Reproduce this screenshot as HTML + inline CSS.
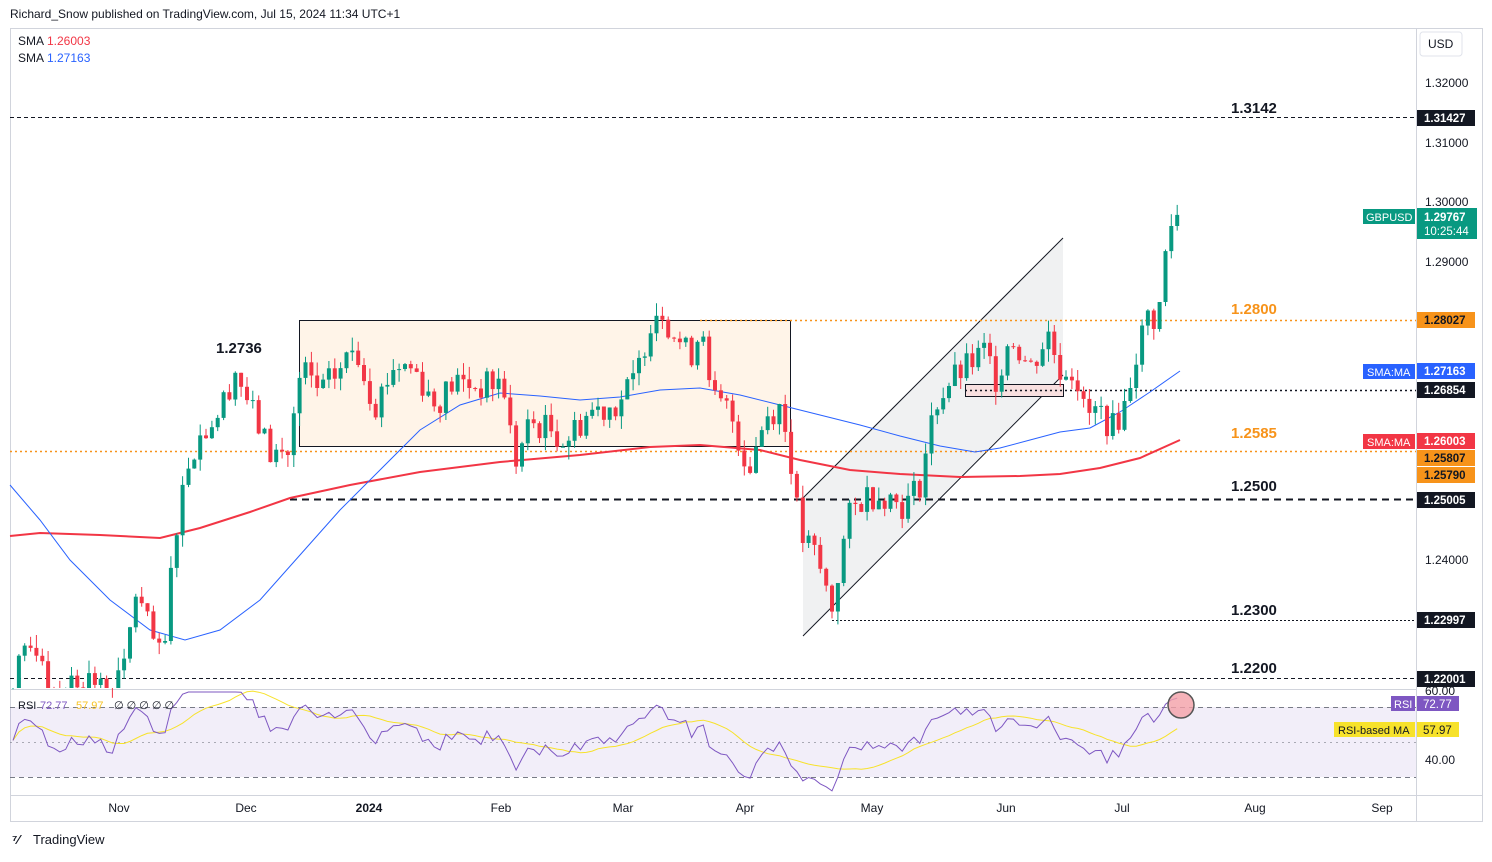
<!DOCTYPE html>
<html><head><meta charset="utf-8">
<style>
body{margin:0;background:#fff;font-family:"Liberation Sans",Arial,sans-serif;}
svg text{font-family:"Liberation Sans",Arial,sans-serif;}
</style></head>
<body>
<svg id="s" width="1492" height="857" xmlns="http://www.w3.org/2000/svg">
<rect width="1492" height="857" fill="#fff"/>
<text x="10" y="18" font-size="12" fill="#131722">Richard_Snow published on TradingView.com, Jul 15, 2024 11:34 UTC+1</text>
<rect x="10.5" y="28.5" width="1472" height="793" fill="none" stroke="#d1d4dc"/>
<line x1="1416.5" y1="28" x2="1416.5" y2="822" stroke="#d1d4dc"/>
<line x1="10" y1="795.5" x2="1482" y2="795.5" stroke="#d1d4dc"/>
<line x1="10" y1="689.5" x2="1416" y2="689.5" stroke="#d1d4dc"/>
<text x="18" y="45" font-size="12" fill="#131722">SMA</text><text x="47" y="45" font-size="12" fill="#f23645">1.26003</text>
<text x="18" y="62" font-size="12" fill="#131722">SMA</text><text x="47" y="62" font-size="12" fill="#2962ff">1.27163</text>
<rect x="1420" y="32" width="42" height="24" rx="3" fill="#fff" stroke="#e0e3eb"/>
<text x="1428" y="48" font-size="12" fill="#131722">USD</text>
<rect x="299.5" y="320.5" width="491" height="126" fill="#fff4e8" stroke="#131722"/>
<polygon points="803,498 1063,238 1063,375 803,636" fill="#f0f1f2"/>
<line x1="803" y1="498" x2="1063" y2="238" stroke="#131722"/>
<line x1="803" y1="636" x2="1063" y2="375" stroke="#131722"/>
<rect x="965.5" y="384.5" width="98" height="12" fill="#f8e0e0" stroke="#131722"/>
<line x1="10" y1="117.5" x2="1416" y2="117.5" stroke="#131722" stroke-dasharray="4,3"/>
<line x1="700" y1="320.5" x2="1416" y2="320.5" stroke="#f7931a" stroke-width="1.5" stroke-dasharray="2,3"/>
<line x1="10" y1="451.5" x2="1416" y2="451.5" stroke="#f7931a" stroke-width="1.5" stroke-dasharray="2,3"/>
<line x1="290" y1="499.5" x2="1416" y2="499.5" stroke="#131722" stroke-width="2" stroke-dasharray="7,5"/>
<line x1="965" y1="390.5" x2="1416" y2="390.5" stroke="#131722" stroke-width="1.5" stroke-dasharray="2,3"/>
<line x1="832" y1="620.5" x2="1416" y2="620.5" stroke="#131722" stroke-dasharray="2,2"/>
<line x1="10" y1="678.5" x2="1416" y2="678.5" stroke="#131722" stroke-dasharray="4,3"/>
<g font-size="15" font-weight="bold">
<text x="1231" y="113" fill="#131722">1.3142</text>
<text x="1231" y="314" fill="#f7931a">1.2800</text>
<text x="1231" y="438" fill="#f7931a">1.2585</text>
<text x="1231" y="491" fill="#131722">1.2500</text>
<text x="1231" y="615" fill="#131722">1.2300</text>
<text x="1231" y="673" fill="#131722">1.2200</text>
<text x="216" y="353" fill="#131722">1.2736</text>
</g>
<g id="ma"></g>
<g id="candles"></g>
<rect x="10" y="707" width="1406" height="70" fill="#7e57c2" fill-opacity="0.1"/>
<line x1="10" y1="707.5" x2="1416" y2="707.5" stroke="#787b86" stroke-dasharray="5,4"/>
<line x1="10" y1="742.5" x2="1416" y2="742.5" stroke="#787b86" stroke-dasharray="2,4" stroke-opacity="0.6"/>
<line x1="10" y1="777.5" x2="1416" y2="777.5" stroke="#787b86" stroke-dasharray="5,4"/>
<g id="rsi"></g>
<circle cx="1181" cy="705" r="13" fill="#f4a0a8" fill-opacity="0.8" stroke="#555" stroke-width="1.5"/>
<text x="18" y="709" font-size="11" fill="#131722">RSI</text><text x="40" y="709" font-size="11" fill="#7e57c2">72.77</text><text x="76" y="709" font-size="11" fill="#f7c325">57.97</text><text x="114" y="709" font-size="11" fill="#131722">∅ ∅ ∅ ∅ ∅</text>
<g font-size="12" fill="#131722">
<text x="1425" y="87">1.32000</text><text x="1425" y="147">1.31000</text><text x="1425" y="206">1.30000</text>
<text x="1425" y="266">1.29000</text><text x="1425" y="564">1.24000</text>
<text x="1425" y="695">60.00</text><text x="1425" y="764">40.00</text>
</g>
<g font-size="11.5" font-weight="bold">
<rect x="1417" y="110" width="58" height="16" fill="#131722"/><text x="1424" y="122" fill="#fff">1.31427</text>
<rect x="1363" y="209" width="52" height="15" fill="#089981"/><text x="1366" y="221" fill="#fff" font-weight="normal" font-size="11">GBPUSD</text>
<rect x="1417" y="208" width="60" height="31" fill="#089981"/><text x="1424" y="221" fill="#fff">1.29767</text><text x="1424" y="235" fill="#fff" font-weight="normal">10:25:44</text>
<rect x="1417" y="312" width="58" height="16" fill="#f7931a"/><text x="1424" y="324" fill="#131722">1.28027</text>
<rect x="1363" y="364" width="52" height="15" fill="#2962ff"/><text x="1367" y="376" fill="#fff" font-weight="normal" font-size="11">SMA:MA</text>
<rect x="1417" y="363" width="58" height="16" fill="#2962ff"/><text x="1424" y="375" fill="#fff">1.27163</text>
<rect x="1417" y="382" width="58" height="16" fill="#131722"/><text x="1424" y="394" fill="#fff">1.26854</text>
<rect x="1363" y="434" width="52" height="15" fill="#f23645"/><text x="1367" y="446" fill="#fff" font-weight="normal" font-size="11">SMA:MA</text>
<rect x="1417" y="433" width="58" height="16" fill="#f23645"/><text x="1424" y="445" fill="#fff">1.26003</text>
<rect x="1417" y="450" width="58" height="16" fill="#f7931a"/><text x="1424" y="462" fill="#131722">1.25807</text>
<rect x="1417" y="467" width="58" height="16" fill="#f7931a"/><text x="1424" y="479" fill="#131722">1.25790</text>
<rect x="1417" y="492" width="58" height="16" fill="#131722"/><text x="1424" y="504" fill="#fff">1.25005</text>
<rect x="1417" y="612" width="58" height="16" fill="#131722"/><text x="1424" y="624" fill="#fff">1.22997</text>
<rect x="1417" y="671" width="58" height="16" fill="#131722"/><text x="1424" y="683" fill="#fff">1.22001</text>
<rect x="1391" y="696" width="24" height="15" fill="#7e57c2"/><text x="1394" y="708" fill="#fff" font-weight="normal" font-size="11">RSI</text>
<rect x="1417" y="696" width="42" height="15" fill="#7e57c2"/><text x="1423" y="708" fill="#fff" font-weight="normal">72.77</text>
<rect x="1334" y="722" width="81" height="15" fill="#f7e22b"/><text x="1338" y="734" fill="#131722" font-weight="normal" font-size="11">RSI-based MA</text>
<rect x="1417" y="722" width="42" height="15" fill="#f7e22b"/><text x="1423" y="734" fill="#131722" font-weight="normal">57.97</text>
</g>
<g font-size="12" fill="#131722" text-anchor="middle">
<text x="119" y="812">Nov</text><text x="246" y="812">Dec</text><text x="369" y="812" font-weight="bold">2024</text>
<text x="501" y="812">Feb</text><text x="623" y="812">Mar</text><text x="745" y="812">Apr</text><text x="872" y="812">May</text>
<text x="1006" y="812">Jun</text><text x="1122" y="812">Jul</text><text x="1255" y="812">Aug</text><text x="1382" y="812">Sep</text>
</g>
<text x="12" y="844" font-size="13" font-weight="bold" fill="#131722">⁷⁄</text>
<text x="33" y="844" font-size="13" fill="#131722">TradingView</text>
</svg>
<script>
(function(){
function Y(p){return 202+(1.30-p)*5970;}
var key=[[10,1.219],[30,1.225],[40,1.226],[50,1.219],[60,1.218],[85,1.221],[110,1.217],[125,1.222],[135,1.235],[150,1.228],[163,1.222],[175,1.245],[190,1.258],[205,1.262],[220,1.265],[235,1.272],[252,1.265],[270,1.258],[288,1.258],[302,1.272],[320,1.268],[340,1.272],[355,1.276],[375,1.266],[395,1.273],[415,1.272],[435,1.266],[455,1.270],[480,1.269],[503,1.270],[515,1.256],[530,1.263],[550,1.262],[565,1.260],[590,1.265],[615,1.266],[635,1.270],[650,1.280],[660,1.283],[670,1.279],[690,1.274],[703,1.280],[710,1.267],[730,1.265],[748,1.255],[765,1.264],[780,1.266],[790,1.258],[800,1.244],[815,1.241],[832,1.232],[848,1.247],[865,1.251],[885,1.251],[905,1.249],[920,1.253],[935,1.266],[950,1.270],[965,1.272],[985,1.275],[997,1.270],[1010,1.278],[1030,1.272],[1048,1.278],[1060,1.272],[1075,1.272],[1085,1.264],[1100,1.265],[1112,1.262],[1125,1.266],[1135,1.274],[1148,1.281],[1158,1.280],[1166,1.292],[1174,1.298],[1180,1.2977]];
function interp(x){for(var i=0;i<key.length-1;i++){if(x<=key[i+1][0]){var a=key[i],b=key[i+1];return a[1]+(b[1]-a[1])*(x-a[0])/(b[0]-a[0]);}}return key[key.length-1][1];}
var seed=7;function r(){seed=(seed*9301+49297)%233280;return seed/233280;}
var cl=[],xs=[];var prev=1.218;
var warm=[];for(var i=0;i<20;i++){warm.push(1.218+(r()-0.5)*0.006);}
var g=document.getElementById('candles');var html='';
for(var x=13;x<=1181;x+=5.85){
 var c=interp(x)+(r()-0.5)*0.005;
 if(x>1170)c=interp(x);
 var o=prev;
 var h=Math.max(o,c)+r()*0.0022,l=Math.min(o,c)-r()*0.0022;
 var col=c>=o?'#089981':'#f23645';
 var yt=Y(Math.max(o,c)),yb=Y(Math.min(o,c));if(yb-yt<1)yb=yt+1;
 html+='<line x1="'+x.toFixed(1)+'" y1="'+Y(h).toFixed(1)+'" x2="'+x.toFixed(1)+'" y2="'+Math.min(Y(l),688).toFixed(1)+'" stroke="'+col+'"/>';
 if(yt<688)html+='<rect x="'+(x-2).toFixed(1)+'" y="'+yt.toFixed(1)+'" width="4" height="'+(Math.min(yb,688)-yt).toFixed(1)+'" fill="'+col+'"/>';
 cl.push(c);xs.push(x);prev=c;
}
g.innerHTML=html;
var red=[[10,536],[40,533],[100,535],[160,538],[200,528],[250,512],[290,498],[350,485],[420,472],[500,462],[580,455],[650,447],[700,445],[760,450],[800,460],[850,470],[900,474],[960,477],[1020,476],[1060,474],[1100,468],[1140,458],[1180,440]];
var blue=[[10,485],[40,520],[70,560],[110,600],[150,630],[185,640],[220,630],[260,600],[300,555],[340,510],[380,470],[420,430],[460,405],[500,393],[540,396],[580,400],[620,397],[660,390],[700,388],[740,395],[780,405],[820,415],[860,425],[900,436],[940,446],[975,452],[1000,448],[1030,440],[1060,432],[1090,428],[1120,412],[1150,392],[1180,371]];
function pl(a){return a.map(function(p){return p[0]+','+p[1];}).join(' ');}
document.getElementById('ma').innerHTML='<polyline points="'+pl(red)+'" fill="none" stroke="#f23645" stroke-width="2"/><polyline points="'+pl(blue)+'" fill="none" stroke="#2962ff" stroke-width="1"/>';
var all=warm.concat(cl);var ag=0,al=0,rs=[];
for(var i=1;i<all.length;i++){var d=all[i]-all[i-1];var gg=d>0?d:0,ll=d<0?-d:0;
 if(i<=14){ag+=gg/14;al+=ll/14;}else{ag=(ag*13+gg)/14;al=(al*13+ll)/14;}
 if(i>=20){rs.push(al==0?100:100-100/(1+ag/al));}}
function RY(v){return 777-(v-30)*70/40;}
var rp=[],mp=[];
for(var i=0;i<rs.length;i++){var y=Math.max(692,Math.min(794,RY(rs[i])));rp.push(xs[i].toFixed(1)+','+y.toFixed(1));
 var s=0,n=0;for(var k=Math.max(0,i-13);k<=i;k++){s+=rs[k];n++;}mp.push(xs[i].toFixed(1)+','+RY(s/n).toFixed(1));}
document.getElementById('rsi').innerHTML='<polyline points="'+mp.join(' ')+'" fill="none" stroke="#f7e22b" stroke-width="1"/><polyline points="'+rp.join(' ')+'" fill="none" stroke="#7e57c2" stroke-width="1"/>';
})();
</script>
</body></html>
